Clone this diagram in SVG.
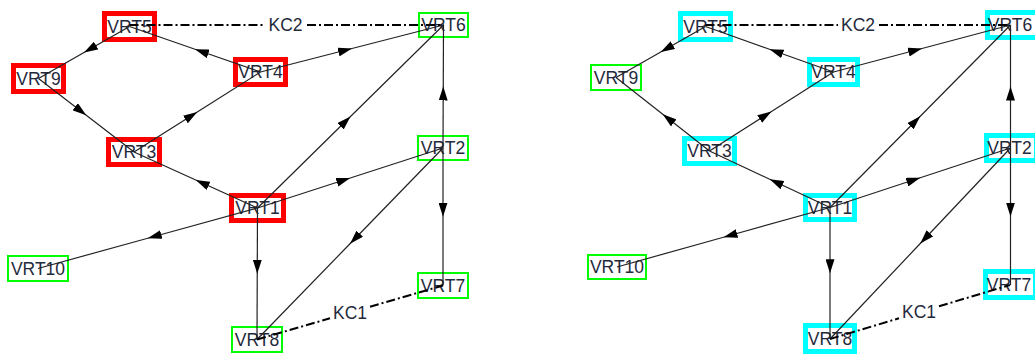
<svg xmlns="http://www.w3.org/2000/svg" width="1035" height="354" viewBox="0 0 1035 354">
<style>
  .red{fill:none;stroke:#ff0000;stroke-width:5}
  .cyan{fill:none;stroke:#00ffff;stroke-width:5}
  .green{fill:none;stroke:#00ff00;stroke-width:2}
  text{font-family:"Liberation Sans",Arial,sans-serif;font-size:17.5px;fill:#1f2a3c;text-anchor:middle;dominant-baseline:central}
  .e{fill:none;stroke:#222;stroke-width:1.2;marker-mid:url(#arr)}
  .kc{fill:none;stroke:#000;stroke-width:2;stroke-dasharray:9 3 2 3}
</style>
<defs>
  <marker id="arr" markerUnits="userSpaceOnUse" viewBox="0 0 14 9" markerWidth="14" markerHeight="9" refX="14" refY="4.5" orient="auto">
    <path d="M0,0 L14,4.5 L0,9 z" fill="#000"/>
  </marker>
</defs>
<rect width="1035" height="354" fill="#fff"/>
<!-- Left panel nodes -->
<g id="L-VRT5"><rect class="red" x="104.5" y="13.5" width="50" height="26"/><text x="129.5" y="26.5">VRT5</text></g>
<g id="L-VRT9"><rect class="red" x="13.5" y="65.5" width="50" height="26"/><text x="38.5" y="78.5">VRT9</text></g>
<g id="L-VRT3"><rect class="red" x="108.5" y="139.5" width="51" height="25"/><text x="134" y="152">VRT3</text></g>
<g id="L-VRT4"><rect class="red" x="235.5" y="59.5" width="50" height="25"/><text x="260.5" y="72">VRT4</text></g>
<g id="L-VRT1"><rect class="red" x="231.5" y="195.5" width="52" height="25"/><text x="257.5" y="208">VRT1</text></g>
<g id="L-VRT6"><rect class="green" x="419" y="13" width="49" height="24"/><text x="443.5" y="25">VRT6</text></g>
<g id="L-VRT2"><rect class="green" x="418" y="136" width="50" height="24"/><text x="443" y="148">VRT2</text></g>
<g id="L-VRT10"><rect class="green" x="8" y="256" width="60" height="25"/><text x="38" y="268.5">VRT10</text></g>
<g id="L-VRT8"><rect class="green" x="232" y="327" width="50" height="25"/><text x="257" y="339.5">VRT8</text></g>
<g id="L-VRT7"><rect class="green" x="418" y="273" width="50" height="25"/><text x="443" y="285.5">VRT7</text></g>
<!-- Right panel nodes -->
<g id="R-VRT5"><rect class="cyan" x="680.5" y="13.5" width="50" height="26"/><text x="705.5" y="26.5">VRT5</text></g>
<g id="R-VRT9"><rect class="green" x="591" y="65" width="50" height="25"/><text x="616" y="77.5">VRT9</text></g>
<g id="R-VRT3"><rect class="cyan" x="684.5" y="138.5" width="50" height="25"/><text x="709.5" y="151">VRT3</text></g>
<g id="R-VRT4"><rect class="cyan" x="809.5" y="59.5" width="48" height="25"/><text x="833.5" y="72">VRT4</text></g>
<g id="R-VRT1"><rect class="cyan" x="805.5" y="195.5" width="49" height="24"/><text x="830" y="207.5">VRT1</text></g>
<g id="R-VRT6"><rect class="cyan" x="987.5" y="12.5" width="50" height="25"/><text x="1010" y="25">VRT6</text></g>
<g id="R-VRT2"><rect class="cyan" x="986.5" y="135.5" width="50" height="25"/><text x="1009.5" y="148">VRT2</text></g>
<g id="R-VRT10"><rect class="green" x="588" y="255" width="58" height="24"/><text x="617" y="267">VRT10</text></g>
<g id="R-VRT8"><rect class="cyan" x="805.5" y="325.5" width="49" height="26"/><text x="830" y="339">VRT8</text></g>
<g id="R-VRT7"><rect class="cyan" x="985.5" y="271.5" width="50" height="26"/><text x="1009" y="285">VRT7</text></g>
<!-- Connectors -->
<g id="connectors">
  <path class="e" d="M129.5,26.5 L84,52.5 L38.5,78.5"/>
  <path class="e" d="M260.5,72 L195,49.25 L129.5,26.5"/>
  <path class="e" d="M38.5,78.5 L86.25,115.25 L134,152"/>
  <path class="e" d="M134,152 L197.25,112 L260.5,72"/>
  <path class="e" d="M257.5,208 L195.75,180 L134,152"/>
  <path class="e" d="M257.5,208 L147.75,238.25 L38,268.5"/>
  <path class="e" d="M257.5,208 L257.25,273.75 L257,339.5"/>
  <path class="e" d="M257.5,208 L350.25,178 L443,148"/>
  <path class="e" d="M257.5,208 L350.5,116.5 L443.5,25"/>
  <path class="e" d="M260.5,72 L352,48.5 L443.5,25"/>
  <path class="e" d="M443,148 L443.25,86.5 L443.5,25"/>
  <path class="e" d="M443,148 L443,216.75 L443,285.5"/>
  <path class="e" d="M443,148 L350,243.75 L257,339.5"/>
  <path class="kc" d="M129.5,25 H265"/>
  <path class="kc" d="M307,25 H443.5"/>
  <text x="285.5" y="25">KC2</text>
  <path class="kc" d="M257,339.5 L330,318.3"/>
  <path class="kc" d="M370,306.7 L443,285.5"/>
  <text x="350" y="312.5">KC1</text>

  <path class="e" d="M705.5,26.5 L660.75,52 L616,77.5"/>
  <path class="e" d="M833.5,72 L769.5,49.25 L705.5,26.5"/>
  <path class="e" d="M709.5,151 L662.75,114.25 L616,77.5"/>
  <path class="e" d="M709.5,151 L771.5,111.5 L833.5,72"/>
  <path class="e" d="M830,207.5 L769.75,179.25 L709.5,151"/>
  <path class="e" d="M830,207.5 L723.5,237.25 L617,267"/>
  <path class="e" d="M830,207.5 L830,273.25 L830,339"/>
  <path class="e" d="M830,207.5 L920.25,177.75 L1010.5,148"/>
  <path class="e" d="M830,207.5 L920.25,116.25 L1010.5,25"/>
  <path class="e" d="M833.5,72 L922,48.5 L1010.5,25"/>
  <path class="e" d="M1010.5,148 L1010.5,86.5 L1010.5,25"/>
  <path class="e" d="M1010.5,148 L1010.5,216.5 L1010.5,285"/>
  <path class="e" d="M1010.5,148 L920.25,243.5 L830,339"/>
  <path class="kc" d="M705.5,25 H838"/>
  <path class="kc" d="M879,25 H1010"/>
  <text x="858" y="25">KC2</text>
  <path class="kc" d="M830,339 L899,318.3"/>
  <path class="kc" d="M939,306.3 L1010,285"/>
  <text x="919" y="312">KC1</text>
</g>
</svg>
